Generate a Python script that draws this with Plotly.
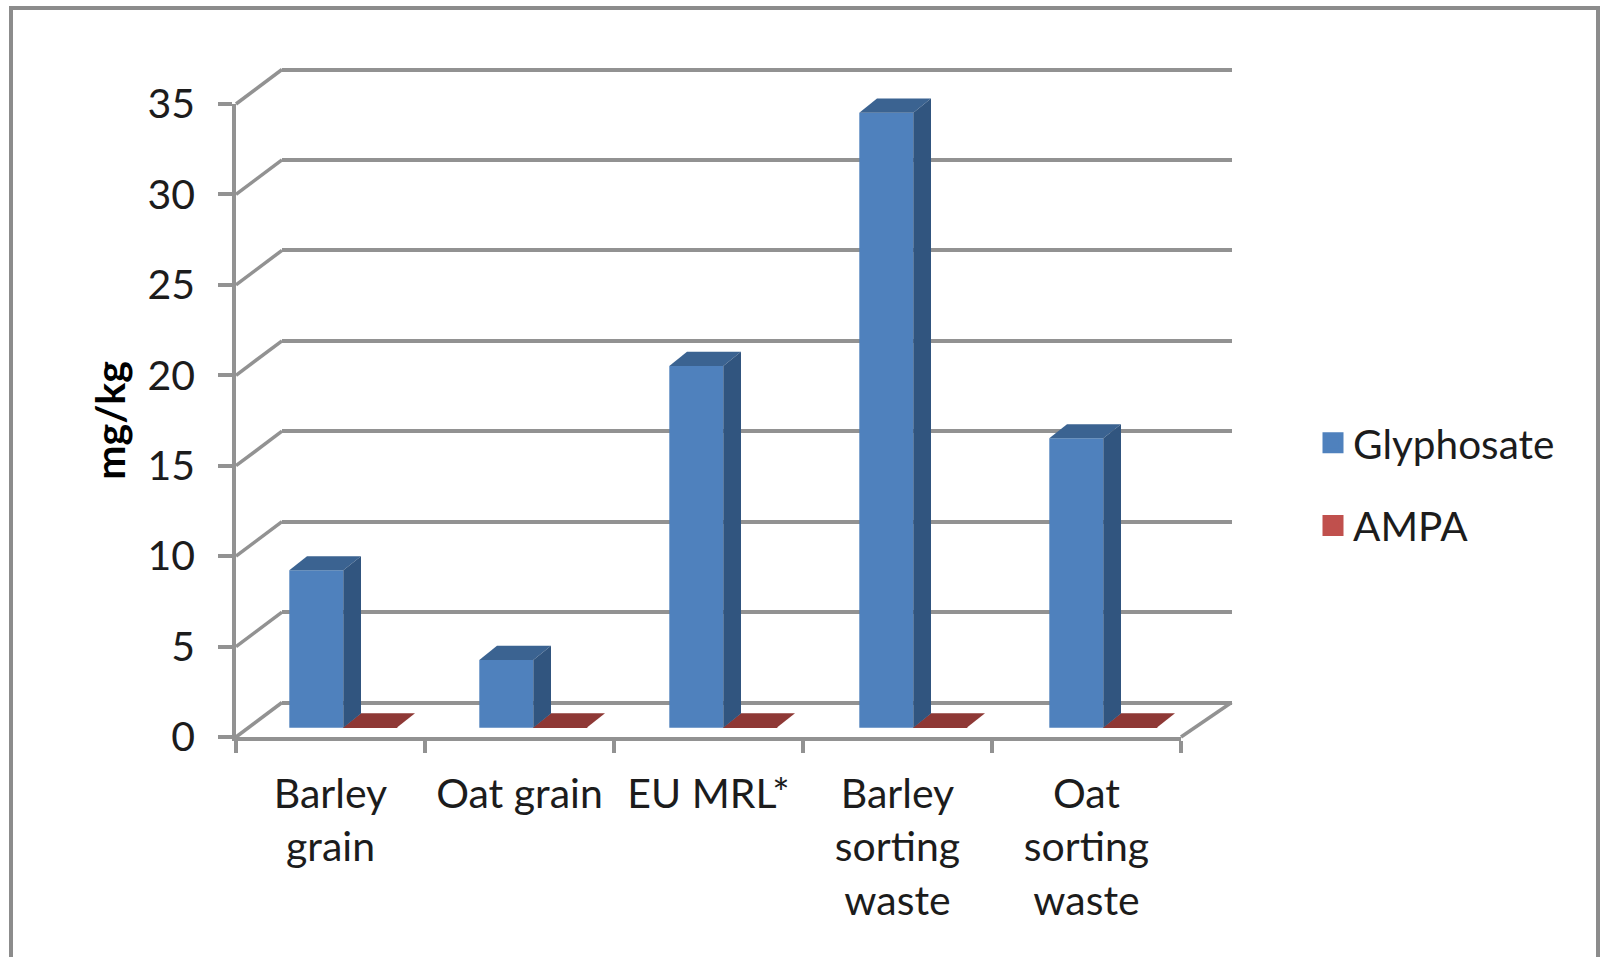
import plotly.graph_objects as go

# Chart data
categories = ["Barley<br>grain", "Oat grain", "EU MRL*", "Barley<br>sorting<br>waste", "Oat<br>sorting<br>waste"]
glyphosate = [8.7, 3.75, 20, 34, 16]
ampa = [0.02, 0.02, 0.02, 0.02, 0.02]
y_ticks = [0, 5, 10, 15, 20, 25, 30, 35]

W, H = 1600, 957
FONT = "Lato"
TEXT = "#1c1c1c"
LINE = "#929292"
LINE_W = 3.5
BLUE, BLUE_SIDE, BLUE_TOP = "#4F81BD", "#31557F", "#3B6391"
RED, RED_TOP = "#C0504D", "#8E3835"

# Pixel frame of the front axes and the scale derived from it
LEFT, RIGHT, Y0, Y35 = 236.0, 1181.0, 737.0, 104.0
PX_X = (RIGHT - LEFT) / 5
PX_Y = (Y0 - Y35) / 35

# Oblique projection: wall offset, and bar placement inside the floor depth (axis units)
WALL_DX, WALL_DX_R, WALL_DY = 46 / PX_X, 50.5 / PX_X, 34.5 / PX_Y
BAR_BASE = 9.3 / PX_Y
BAR_START, BAR_W = 53.3 / PX_X, 54 / PX_X
BAR_PITCH = 190 / PX_X
DEPTH_X, DEPTH_Y = 17.7 / PX_X, 14.2 / PX_Y
# The wall axis overshoots by a few pixels so its first and last gridlines are kept
WALL_PAD = 3.0


def xdom(a, b):
    return [a / W, b / W]


def ydom(top, bottom):
    return [1 - bottom / H, 1 - top / H]


fig = go.Figure()


def polygon(xs, ys, color):
    fig.add_trace(go.Scatter(x=xs, y=ys, xaxis="x3", yaxis="y3", mode="lines", fill="toself",
                             fillcolor=color, line=dict(width=0, color=color),
                             hoverinfo="skip", showlegend=False))


# Back wall gridlines come from their own axis; these keep the two axis subplots alive
fig.add_trace(go.Scatter(x=[None], y=[None], xaxis="x", yaxis="y", showlegend=False, hoverinfo="skip"))
fig.add_trace(go.Scatter(x=[None], y=[None], xaxis="x2", yaxis="y2", showlegend=False, hoverinfo="skip"))

# Slanted connectors from the value axis to the back wall, plus the floor's right edge
for t in y_ticks:
    fig.add_trace(go.Scatter(x=[0, WALL_DX], y=[t, t + WALL_DY], xaxis="x3", yaxis="y3", mode="lines",
                             line=dict(color=LINE, width=LINE_W), hoverinfo="skip", showlegend=False))
fig.add_trace(go.Scatter(x=[5, 5 + WALL_DX_R], y=[0, WALL_DY], xaxis="x3", yaxis="y3", mode="lines",
                         line=dict(color=LINE, width=LINE_W), hoverinfo="skip", showlegend=False))

# Front faces of both series
positions = [i * BAR_PITCH + BAR_START for i in range(len(categories))]
fig.add_trace(go.Bar(x=[p + BAR_W / 2 for p in positions], y=glyphosate, base=BAR_BASE, width=BAR_W,
                     marker=dict(color=BLUE, line=dict(width=0)), xaxis="x3", yaxis="y3",
                     name="Glyphosate", showlegend=False))
fig.add_trace(go.Bar(x=[p + BAR_W * 1.5 for p in positions], y=ampa, base=BAR_BASE, width=BAR_W,
                     marker=dict(color=RED_TOP, line=dict(width=0)), xaxis="x3", yaxis="y3",
                     name="AMPA", showlegend=False))

# Top and side faces, red series first so the blue sides sit over it
for p, v in zip(positions, ampa):
    x0, x1 = p + BAR_W, p + 2 * BAR_W
    y = BAR_BASE + v
    polygon([x0, x1, x1 + DEPTH_X, x0 + DEPTH_X, x0], [y, y, y + DEPTH_Y, y + DEPTH_Y, y], RED_TOP)
for p, v in zip(positions, glyphosate):
    x0, x1 = p, p + BAR_W
    y = BAR_BASE + v
    polygon([x0, x1, x1 + DEPTH_X, x0 + DEPTH_X, x0], [y, y, y + DEPTH_Y, y + DEPTH_Y, y], BLUE_TOP)
    polygon([x1, x1, x1 + DEPTH_X, x1 + DEPTH_X, x1],
            [BAR_BASE, y, y + DEPTH_Y, BAR_BASE + DEPTH_Y, BAR_BASE], BLUE_SIDE)

# Legend entries
for name, color in (("Glyphosate", BLUE), ("AMPA", RED)):
    fig.add_trace(go.Scatter(x=[None], y=[None], xaxis="x3", yaxis="y3", mode="markers", name=name,
                             legendgroup=name,
                             marker=dict(symbol="square", size=18, color=color, line=dict(width=5, color=color))))

# The drawing layer reaches past the front axes by a fixed margin on each side
D_LEFT, D_RIGHT, D_TOP, D_BOTTOM = 200.0, 1260.0, 50.0, 760.0

fig.update_layout(
    width=W, height=H, margin=dict(l=0, r=0, t=0, b=0, autoexpand=False), autosize=False,
    paper_bgcolor="white", plot_bgcolor="rgba(0,0,0,0)", barmode="overlay", showlegend=True,
    font=dict(family=FONT, color=TEXT, size=41),
    legend=dict(x=1313 / W, y=1 - 410 / H, xref="container", yref="container",
                xanchor="left", yanchor="top", tracegroupgap=27,
                itemclick=False, itemdoubleclick=False, bgcolor="rgba(0,0,0,0)",
                font=dict(family=FONT, size=40.5, color=TEXT)),
    # back wall
    xaxis=dict(domain=xdom(LEFT + 46, RIGHT + 50.5), range=[0, 1], showticklabels=False, ticks="",
               showgrid=False, zeroline=False, showline=False, anchor="y"),
    yaxis=dict(domain=ydom(Y35 - 34.5 - WALL_PAD, Y0 - 34.5 + WALL_PAD),
               range=[-WALL_PAD / PX_Y, 35 + WALL_PAD / PX_Y], tickvals=y_ticks, showticklabels=False, ticks="",
               showgrid=True, gridcolor=LINE, gridwidth=LINE_W, zeroline=False, showline=False, anchor="x"),
    # front axes
    xaxis2=dict(domain=xdom(LEFT, RIGHT), range=[0, 5], anchor="y2", showline=True, linecolor=LINE, linewidth=LINE_W,
                tickvals=[i + 0.5 for i in range(len(categories))], ticktext=categories, ticks="",
                tickfont=dict(family=FONT, size=41, color=TEXT), ticklabelstandoff=18, tickangle=0,
                minor=dict(tickvals=list(range(len(categories) + 1)), ticks="outside", ticklen=12,
                           tickwidth=LINE_W, tickcolor=LINE),
                showgrid=False, zeroline=False),
    yaxis2=dict(domain=ydom(Y35, Y0), range=[0, 35], anchor="x2", showline=True, linecolor=LINE, linewidth=LINE_W,
                tickvals=y_ticks, ticks="outside", ticklen=14, tickwidth=LINE_W, tickcolor=LINE,
                tickfont=dict(family=FONT, size=41, color=TEXT), ticklabelstandoff=15,
                showgrid=False, zeroline=False,
                title=dict(text="<b>mg/kg</b>", font=dict(family=FONT, size=41, color="#000000"), standoff=10)),
    # bars and slanted edges, on the same scale as the front axes
    xaxis3=dict(domain=xdom(D_LEFT, D_RIGHT), range=[(D_LEFT - LEFT) / PX_X, (D_RIGHT - LEFT) / PX_X],
                anchor="y3", visible=False),
    yaxis3=dict(domain=ydom(D_TOP, D_BOTTOM), range=[(Y0 - D_BOTTOM) / PX_Y, (Y0 - D_TOP) / PX_Y],
                anchor="x3", visible=False),
    # outer chart border, open along the bottom of the page
    shapes=[dict(type="rect", xref="paper", yref="paper", x0=11 / W, x1=1598 / W, y0=-0.02, y1=1 - 8 / H,
                 line=dict(color="#8C8C8C", width=4), fillcolor="rgba(0,0,0,0)", layer="below")],
)

fig.write_html("out.html")
